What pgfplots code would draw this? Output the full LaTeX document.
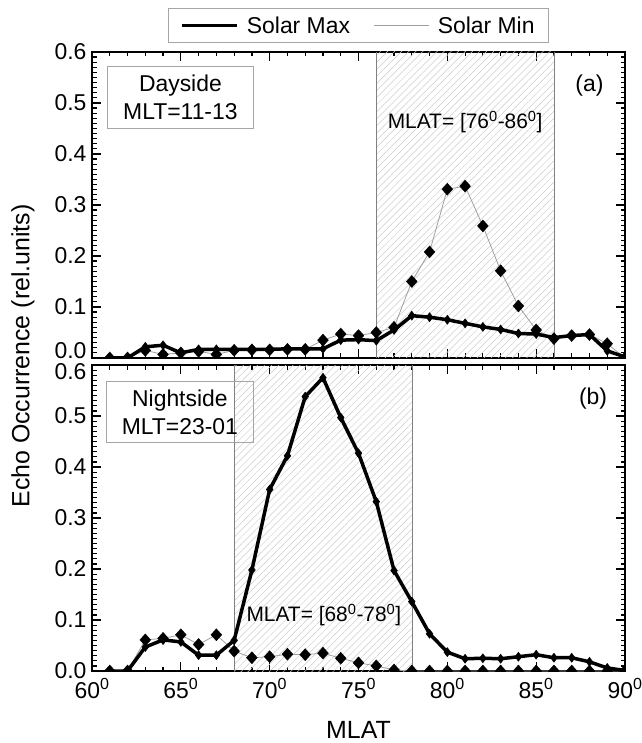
\documentclass[border=0pt]{standalone}
\usepackage{pgfplots}
\pgfplotsset{compat=1.18}
\usepackage{pgfplotstable}
\usepackage{fontspec}
\setmainfont{Liberation Sans}
\usetikzlibrary{patterns.meta}

\pgfplotstableread{
x y
61 0
62 0
63 0.022
64 0.025
65 0.010
66 0.017
67 0.017
68 0.017
69 0.017
70 0.017
71 0.018
72 0.018
73 0.018
74 0.035
75 0.036
76 0.034
77 0.055
78 0.083
79 0.080
80 0.075
81 0.068
82 0.061
83 0.056
84 0.048
85 0.047
86 0.040
87 0.044
88 0.046
89 0.014
90 0.002
}\topmax

\pgfplotstableread{
x y
61 0
62 0
63 0.015
64 0.007
65 0.010
66 0.013
67 0.007
68 0.015
69 0.016
70 0.016
71 0.017
72 0.017
73 0.035
74 0.047
75 0.044
76 0.050
77 0.060
78 0.150
79 0.208
80 0.331
81 0.337
82 0.259
83 0.171
84 0.102
85 0.055
86 0.038
87 0.044
88 0.046
89 0.028
90 0.0
}\topmin

\pgfplotstableread{
x y
61 0
62 0
63 0.047
64 0.061
65 0.057
66 0.031
67 0.031
68 0.060
69 0.198
70 0.356
71 0.422
72 0.538
73 0.575
74 0.497
75 0.427
76 0.332
77 0.197
78 0.136
79 0.073
80 0.037
81 0.024
82 0.025
83 0.024
84 0.028
85 0.032
86 0.026
87 0.026
88 0.018
89 0.006
90 0.001
}\botmax

\pgfplotstableread{
x y
61 0
62 0
63 0.061
64 0.064
65 0.071
66 0.052
67 0.071
68 0.039
69 0.026
70 0.028
71 0.033
72 0.032
73 0.035
74 0.025
75 0.016
76 0.010
77 0.002
78 0
79 0
80 0
81 0
82 0
83 0
84 0
85 0
86 0
87 0
88 0
89 0
90 0
}\botmin

\pgfplotsset{
  myax/.style={
    scale only axis, width=533bp, height=306bp,
    xmin=60, xmax=90, ymin=0, ymax=0.6,
    xtick={60,65,70,75,80,85,90}, minor x tick num=4,
    ytick={0,0.1,0.2,0.3,0.4,0.5,0.6},
    minor y tick num=9,
    tick align=inside,
    major tick length=9bp, minor tick length=4.5bp,
    axis line style={line width=2bp},
    every tick/.style={black, line width=1.2bp},
    tick label style={font=\fontsize{23}{27}\selectfont},
    yticklabel style={xshift=-2bp},
    clip marker paths=true,
  },
  maxline/.style={black, line width=3.5bp, mark=diamond*, mark size=4.5bp, mark options={solid, line width=0.5bp}},
  minline/.style={gray!75, line width=0.8bp, mark=diamond*, mark size=6bp, mark options={black, fill=black, line width=0.4bp, xscale=1.2}},
  hatch/.style={draw=none, pattern={Lines[angle=45, distance=5bp, line width=0.5bp]}, pattern color=gray!40},
}

\begin{document}
\begin{tikzpicture}
\useasboundingbox (-92bp,-72bp) rectangle (550bp,671bp);

% top panel
\begin{axis}[myax, at={(0,313bp)}, anchor=south west,
  xticklabels={},
  yticklabels={\raisebox{7bp}[\height][\depth]{0.0},0.1,0.2,0.3,0.4,0.5,0.6},
  legend style={at={(0.5,1)}, anchor=south, yshift=9bp, draw=gray!70, line width=0.8bp,
    font=\fontsize{23}{27}\selectfont, legend columns=2,
    /tikz/every even column/.append style={column sep=22bp},
    inner xsep=12bp, inner ysep=6bp},
  legend cell align=left,
  legend image code/.code={\draw[#1] (0bp,0bp) -- (55bp,0bp); \path (61bp,0bp);},
]
\addplot[hatch, forget plot] coordinates {(76,0.6) (86,0.6)} \closedcycle;
\addplot[gray, line width=0.6bp, forget plot] coordinates {(76,0) (76,0.6)};
\addplot[gray, line width=0.6bp, forget plot] coordinates {(86,0) (86,0.6)};
\addplot[minline, forget plot] table {\topmin};
\addplot[maxline, forget plot] table {\topmax};
\addlegendimage{black, line width=3.5bp}
\addlegendentry{Solar Max}
\addlegendimage{gray!75, line width=0.8bp}
\addlegendentry{Solar Min}
\node[draw=gray!70, line width=0.8bp, anchor=north west, minimum width=146bp, minimum height=62bp,
  align=center, inner sep=0pt, font=\fontsize{23}{28}\selectfont]
  at ([xshift=15bp,yshift=-14bp]rel axis cs:0,1) {Dayside\\MLT=11-13};
\node[font=\fontsize{23}{27}\selectfont] at (axis cs:88,0.535) {(a)};
\node[font=\fontsize{21}{25}\selectfont] at (axis cs:81,0.463) {MLAT= [76\textsuperscript{0}-86\textsuperscript{0}]};
\end{axis}

% bottom panel
\begin{axis}[myax, at={(0,0)}, anchor=south west,
  yticklabels={0.0,0.1,0.2,0.3,0.4,0.5,\raisebox{-7bp}[\height][\depth]{0.6}},
  xticklabels={60\textsuperscript{0},65\textsuperscript{0},70\textsuperscript{0},75\textsuperscript{0},80\textsuperscript{0},85\textsuperscript{0},90\textsuperscript{0}},
  xticklabel style={yshift=-4bp},
  xlabel={MLAT},
  xlabel style={font=\fontsize{25}{30}\selectfont, at={(axis description cs:0.5,0)}, anchor=center, yshift=-59bp},
]
\addplot[hatch] coordinates {(68,0.6) (78,0.6)} \closedcycle;
\addplot[gray, line width=0.6bp] coordinates {(68,0) (68,0.6)};
\addplot[gray, line width=0.6bp] coordinates {(78,0) (78,0.6)};
\addplot[minline] table {\botmin};
\addplot[maxline] table {\botmax};
\node[draw=gray!70, line width=0.8bp, anchor=north west, minimum width=147bp, minimum height=61bp,
  align=center, inner sep=0pt, font=\fontsize{23}{28}\selectfont]
  at ([xshift=14bp,yshift=-16bp]rel axis cs:0,1) {Nightside\\MLT=23-01};
\node[font=\fontsize{23}{27}\selectfont] at (axis cs:88.2,0.535) {(b)};
\node[font=\fontsize{21}{25}\selectfont] at (axis cs:73.05,0.11) {MLAT= [68\textsuperscript{0}-78\textsuperscript{0}]};
\end{axis}

\node[rotate=90, font=\fontsize{25}{30}\selectfont] at (-69bp,315bp) {Echo Occurrence (rel.units)};
\end{tikzpicture}
\end{document}
